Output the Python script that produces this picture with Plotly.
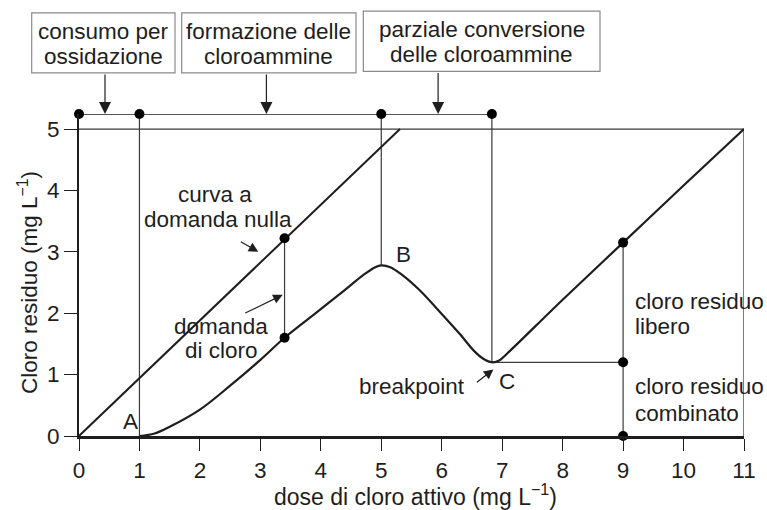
import plotly.graph_objects as go

# Breakpoint chlorination curve: residual chlorine vs applied dose
dose = [1.0, 1.25, 1.5, 2.0, 2.5, 3.0, 3.4, 3.9, 4.4, 4.7, 4.9, 5.0, 5.15, 5.35,
        5.64, 5.97, 6.3, 6.55, 6.7, 6.85, 6.95, 7.1, 8.0, 9.0, 10.0, 11.0]
residuo = [0.0, 0.04, 0.15, 0.43, 0.82, 1.24, 1.6, 1.99, 2.38, 2.62, 2.75, 2.78, 2.75, 2.62,
           2.37, 2.02, 1.66, 1.37, 1.25, 1.2, 1.23, 1.36, 2.22, 3.15, 4.08, 5.0]

# zero-demand line (residual equals dose, no consumption)
nulla_x = [0.0, 5.31]
nulla_y = [0.0, 5.0]

# key doses: start of residual (A), peak (B), breakpoint (C)
dose_A, dose_B, dose_C = 1.0, 5.0, 6.83
res_B, res_C = 2.78, 1.2
livello_fasi = 5.245          # level of the phase bar above the plot
dose_domanda = 3.4            # where chlorine demand is marked
nulla_domanda, res_domanda = 3.22, 1.6
dose_lettura = 9.0            # where free/combined residual are read
res_totale_9 = 3.15

x_ticks = list(range(0, 12))
y_ticks = list(range(0, 6))

INK = "#1e1e1e"
THIN = "#3a3a3a"
FONT = "Liberation Sans, Arial, sans-serif"
FS = 22.5

fig = go.Figure()


def segment(xs, ys, width=1.2, color=THIN):
    fig.add_trace(go.Scatter(x=xs, y=ys, mode="lines", cliponaxis=False,
                             line=dict(color=color, width=width), hoverinfo="skip"))


# frame: top at 5 and right at 11
segment([0, 11], [5, 5], 1.3)
segment([11, 11], [0, 5], 1.3)

# phase bar and drop lines
segment([0, dose_C], [livello_fasi, livello_fasi], 1.4, INK)
segment([dose_A, dose_A], [0, livello_fasi])
segment([dose_B, dose_B], [res_B, livello_fasi])
segment([dose_C, dose_C], [res_C, livello_fasi])
segment([dose_domanda, dose_domanda], [res_domanda, nulla_domanda])
segment([dose_lettura, dose_lettura], [0, res_totale_9])
segment([dose_C, dose_lettura], [res_C, res_C])

# zero-demand line
segment(nulla_x, nulla_y, 2.0, INK)

# residual chlorine curve
fig.add_trace(go.Scatter(x=dose, y=residuo, mode="lines", cliponaxis=False,
                         line=dict(color=INK, width=2.2, shape="spline", smoothing=1.0),
                         hoverinfo="skip"))

# dots
fig.add_trace(go.Scatter(
    x=[0, dose_A, dose_B, dose_C, dose_domanda, dose_domanda,
       dose_lettura, dose_lettura, dose_lettura],
    y=[livello_fasi] * 4 + [nulla_domanda, res_domanda, res_totale_9, res_C, 0],
    mode="markers", cliponaxis=False,
    marker=dict(color="#000", size=10), hoverinfo="skip"))

ann = []


def text(x, y, s, xanchor="center", xref="x", yref="y", angle=0, size=FS):
    ann.append(dict(x=x, y=y, xref=xref, yref=yref, text=s, showarrow=False,
                    xanchor=xanchor, yanchor="middle", textangle=angle,
                    font=dict(family=FONT, size=size, color=INK)))


def arrow(x, y, ax, ay, size=1.6):
    ann.append(dict(x=x, y=y, xref="x", yref="y", ax=ax, ay=ay, text="",
                    showarrow=True, arrowhead=2, arrowsize=size, arrowwidth=1.2,
                    arrowcolor=INK, standoff=0))


# phase boxes above the plot (paper coordinates)
boxes = [
    (31.7, 175.0, 13.3, 73.3, ["consumo per", "ossidazione"], 0.43),
    (181.7, 356.0, 13.3, 73.3, ["formazione delle", "cloroammine"], 3.1),
    (363.3, 600.0, 11.7, 71.7, ["parziale conversione", "delle cloroammine"], 5.94),
]
L, R, T, B = 79.0, 744.0, 114.3, 435.7
shapes = []
for x0, x1, y0, y1, lines, xa in boxes:
    shapes.append(dict(type="rect", xref="paper", yref="paper",
                       x0=(x0 - L) / (R - L), x1=(x1 - L) / (R - L),
                       y0=(B - y1) / (B - T), y1=(B - y0) / (B - T),
                       line=dict(color="#8a8a8a", width=1.2), fillcolor="white"))
    cx = ((x0 + x1) / 2 - L) / (R - L)
    text(cx, (B - (y0 + 18.5)) / (B - T), lines[0], xref="paper", yref="paper")
    text(cx, (B - (y0 + 43.5)) / (B - T), lines[1], xref="paper", yref="paper")
    arrow(xa, livello_fasi, 0, -(T - y1), size=2.0)

# labels inside the plot
text(2.25, 3.93, "curva a")
text(2.30, 3.52, "domanda nulla")
arrow(2.966, 3.0, -19, -11)
text(2.35, 1.78, "domanda")
text(2.36, 1.40, "di cloro")
arrow(3.37, 2.30, -39, 19)
text(0.855, 0.23, "A")
text(5.36, 2.95, "B")
text(7.075, 0.88, "C")
text(6.42, 0.80, "breakpoint", xanchor="right")
arrow(6.855, 1.083, -18, 14)
text(9.17, 2.19, "cloro residuo", xanchor="left")
text(9.17, 1.78, "libero", xanchor="left")
text(9.17, 0.80, "cloro residuo", xanchor="left")
text(9.17, 0.365, "combinato", xanchor="left")

# axis titles
text((28 - L) / (R - L), (B - 283) / (B - T), "Cloro residuo (mg L<sup>−1</sup>)",
     xref="paper", yref="paper", angle=-90)
text((415 - L) / (R - L), (B - 495) / (B - T), "dose di cloro attivo (mg L<sup>−1</sup>)",
     xref="paper", yref="paper", size=23)

fig.update_layout(
    width=767, height=510,
    margin=dict(l=L, r=767 - R, t=T, b=510 - B, pad=0),
    paper_bgcolor="white", plot_bgcolor="white",
    showlegend=False,
    shapes=shapes, annotations=ann,
    font=dict(family=FONT, size=FS, color=INK),
    xaxis=dict(range=[0, 11], tickvals=x_ticks, ticks="outside", ticklen=12,
               tickwidth=1.2, tickcolor=INK, showline=True, linecolor=INK,
               linewidth=2.6, showgrid=False, zeroline=False, fixedrange=True,
               tickfont=dict(family=FONT, size=FS, color=INK)),
    yaxis=dict(range=[0, livello_fasi], tickvals=y_ticks, ticks="outside", ticklen=13,
               tickwidth=1.2, tickcolor=INK, showline=True, linecolor=INK,
               linewidth=2.2, showgrid=False, zeroline=False, fixedrange=True,
               tickfont=dict(family=FONT, size=FS, color=INK)),
)

fig.write_html("out.html")
